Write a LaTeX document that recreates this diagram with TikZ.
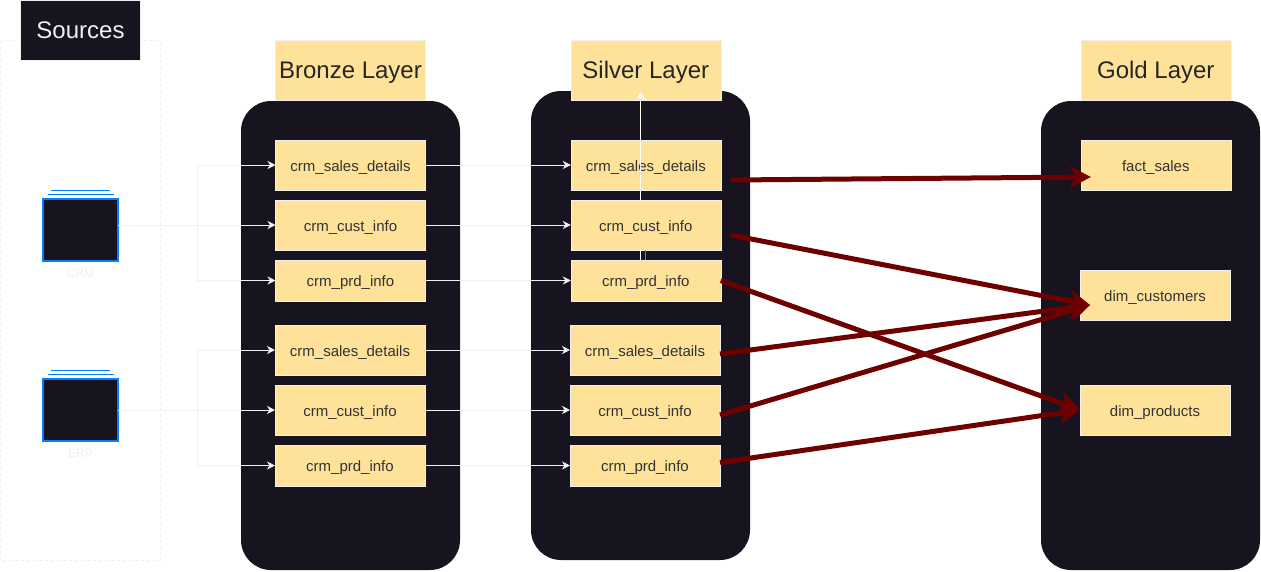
\documentclass[tikz,border=0pt]{standalone}
\usepackage{fontspec}
\setmainfont{Liberation Sans}
\usetikzlibrary{arrows.meta,positioning}
\definecolor{panel}{HTML}{18141F}
\definecolor{sand}{HTML}{FFE299}
\definecolor{wire}{HTML}{F0F0F0}
\definecolor{iconblue}{HTML}{007FFF}
\definecolor{wine}{HTML}{6F0000}
\begin{document}
\begin{tikzpicture}[x=1pt,y=-1pt,
  layer/.style={fill=panel,rounded corners=30pt,minimum width=219pt,inner sep=0pt,outer sep=0pt},
  hd/.style={draw=wire,fill=sand,minimum width=150pt,minimum height=60pt,inner sep=0pt,outer sep=0pt,text height=16pt,text depth=0pt,font=\fontsize{24}{28}\selectfont,text=black!85},
  tbl/.style={draw=wire,fill=sand,minimum width=150pt,inner sep=0pt,outer sep=0pt,text height=12pt,text depth=0pt,font=\fontsize{15}{18}\selectfont,text=black!80},
  src/.style={draw=iconblue,line width=2pt,fill=panel,minimum width=75pt,minimum height=62pt,inner sep=0pt,outer sep=0pt},
  tag/.style={text=wire,font=\fontsize{12}{14}\selectfont,inner sep=0pt},
  bar/.style={draw=iconblue,line width=1.8pt},
  link/.style={-{Stealth[length=8pt,width=8pt,inset=2.5pt]},draw=wire,line width=0.9pt},
  flow/.style={-{Stealth[length=21pt,width=22pt,inset=6pt]},draw=wine,line width=5pt}]
\path[use as bounding box,fill=white] (0,0) rectangle (1261,571);
% sources
\draw[draw=wire,dashed,line width=0.8pt] (0.5,40.5) rectangle (160,560);
\node[draw=wire,fill=panel,text=wire,minimum width=120pt,minimum height=60pt,inner sep=0pt,font=\fontsize{24}{28}\selectfont] (sources) at (80.5,30.5) {Sources};
\foreach \n/\y/\t in {crm/229.5/CRM,erp/409.5/ERP}{
  \node[src] (\n) at (80.5,\y) {};
  \node[tag,below=8.5pt of \n] (\n tag) {\t};
  \draw[bar] ([shift={(4.5,-4)}]\n.north west) -- ([shift={(-4.5,-4)}]\n.north east);
  \draw[bar] ([shift={(8,-8)}]\n.north west) -- ([shift={(-8,-8)}]\n.north east);}
% layers
\node[layer,minimum height=469pt] (bronze) at (350.5,335.5) {};
\node[layer,minimum height=469pt] (silver) at (640.5,325.5) {};
\node[layer,minimum height=469pt] (gold) at (1150.5,335.5) {};
\node[hd] (bhead) at (350.5,70.5) {Bronze Layer};
\node[hd] (shead) at (645.8,70.5) {Silver Layer};
\node[hd] (ghead) at (1155.8,70.5) {Gold Layer};
% tables
\foreach \c/\x in {b/350.5,s/645.8}
  \foreach \n/\y/\h/\t in {sa/165/50/crm\_sales\_details,cu/225/50/crm\_cust\_info,pr/280.5/41/crm\_prd\_info}
    \node[tbl,minimum height=\h pt] (\c\n) at (\x,\y) {\t};
\foreach \c/\x in {b/350,s/645}
  \foreach \n/\y/\h/\t in {sb/350/50/crm\_sales\_details,cv/410/50/crm\_cust\_info,pq/465.5/41/crm\_prd\_info}
    \node[tbl,minimum height=\h pt] (\c\n) at (\x,\y) {\t};
\node[tbl,minimum height=50pt] (fact) at (1155.8,165) {fact\_sales};
\node[tbl,minimum height=50pt] (dimc) at (1155,295) {dim\_customers};
\node[tbl,minimum height=50pt] (dimp) at (1155,410) {dim\_products};
% source to bronze
\coordinate (crmsplit) at (197,225);
\coordinate (erpsplit) at (197,410);
\draw[link] (crm.east |- bcu.west) -- (bcu.west);
\draw[link] (crmsplit) |- (bsa.west);
\draw[link] (crmsplit) |- (bpr.west);
\draw[link] (erp.east |- bcv.west) -- (bcv.west);
\draw[link] (erpsplit) |- (bsb.west);
\draw[link] (erpsplit) |- (bpq.west);
% bronze to silver
\foreach \n in {sa,cu,pr,sb,cv,pq}
  \draw[link] (b\n.east) -- (s\n.west);
% inside silver
\draw[draw=white,line width=0.9pt] ([xshift=-5pt]spr.north) -- ([xshift=-5pt]scu.south);
\draw[draw=gray,line width=1pt] (scu.south) -- (spr.north);
\draw[link,draw=white] ([xshift=-5pt]scu.north) -- ([shift={(-5,-9)}]shead.south);
% silver to gold
\draw[flow] ([shift={(10,15)}]ssa.east) -- ([shift={(10,12)}]fact.west);
\draw[flow] ([shift={(10,10)}]scu.east) -- ([shift={(10,10)}]dimc.west);
\draw[flow] (spr.east) -- (dimp.west);
\draw[flow] ([yshift=-4pt]ssb.east) -- ([shift={(10,10)}]dimc.west);
\draw[flow] ([yshift=-5pt]scv.east) -- ([shift={(10,10)}]dimc.west);
\draw[flow] ([yshift=3pt]spq.east) -- (dimp.west);
\end{tikzpicture}
\end{document}
